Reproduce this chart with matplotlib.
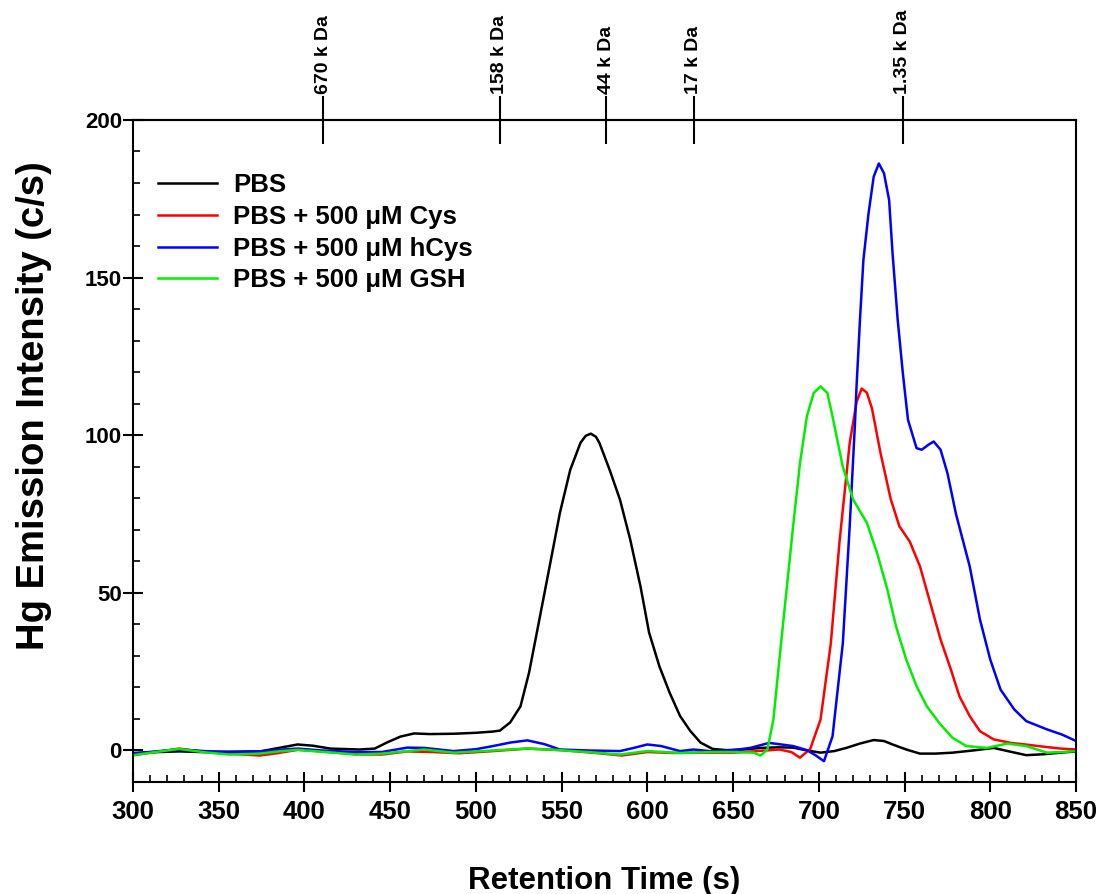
import matplotlib
matplotlib.use("Agg")
import matplotlib.pyplot as plt
from matplotlib.ticker import MultipleLocator

plt.rcParams['font.family'] = ['Liberation Sans', 'DejaVu Sans']
plt.rcParams['font.weight'] = 'bold'

# ➤ retention time (s) / Hg intensity (c/s)
pbs_x = [300, 315, 327, 340, 356, 374, 385, 396, 405, 415, 432, 441, 448, 456, 464, 473,
         487, 500, 510, 514, 520, 526, 531, 537, 543, 549, 555, 561, 564, 567, 570, 572,
         578, 584, 590, 596, 601, 607, 613, 619, 625, 631, 638, 646, 656, 666, 676, 685,
         693, 701, 709, 716, 724, 732, 738, 743, 751, 759, 768, 778, 790, 802, 811, 821,
         831, 841, 850]
pbs_y = [-0.8, -0.5, -0.3, -0.5, -0.4, -0.3, 0.8, 1.9, 1.5, 0.6, 0.3, 0.6, 2.5, 4.4, 5.4, 5.2,
         5.3, 5.6, 6.0, 6.3, 8.9, 14, 24.7, 41.5, 58.4, 75.4, 89, 97.6, 99.8, 100.5, 99.5, 97.6,
         89, 79.6, 66.9, 52, 37.4, 26.7, 18.3, 11, 6.2, 2.5, 0.5, 0.1, 0.3, 0.8, 1.0, 0.9,
         0, -0.7, -0.2, 0.8, 2.2, 3.3, 3.0, 1.9, 0.3, -1, -1.0, -0.7, 0, 0.8, -0.3, -1.5,
         -1.2, -0.7, -0.3]

cys_x = [300, 313, 327, 342, 356, 374, 385, 396, 410, 430, 445, 460, 475, 490, 510, 530,
         550, 570, 585, 600, 615, 632, 650, 664, 677, 684, 689, 695, 701, 707, 712, 718,
         722, 725, 728, 731, 736, 742, 747, 753, 759, 765, 771, 777, 782, 788, 794, 802,
         812, 822, 831, 841, 850]
cys_y = [-1.5, -0.5, 0.6, -0.5, -1.0, -1.6, -0.8, 0.2, -0.3, -1.2, -1.3, -0.3, -0.5, -0.9, -0.2, 0.6,
         0.1, -0.8, -1.6, -0.5, -0.8, -0.7, -0.7, -0.2, 0.3, -0.5, -2.3, 0.5, 9.8, 34, 65.8, 97.5,
         110.5, 114.8, 113.5, 108.5, 94.3, 79.6, 71.1, 66.3, 58.4, 46.8, 35.2, 25.7, 17.2, 10.9, 6.1, 3.5,
         2.4, 1.8, 1.2, 0.6, 0.3]

hcys_x = [300, 313, 327, 342, 356, 374, 385, 396, 410, 430, 445, 460, 470, 487, 500, 510,
          520, 530, 540, 549, 565, 584, 592, 600, 608, 619, 627, 638, 650, 660, 671, 685,
          693, 698, 703, 708, 714, 718, 721, 722, 724, 726, 729, 732, 735, 738, 741, 743,
          746, 749, 752, 757, 760, 764, 767, 771, 775, 780, 788, 794, 800, 806, 814, 821,
          833, 842, 850]
hcys_y = [-1.0, -0.3, 0.3, -0.2, -0.5, -0.3, 0.2, 0.6, 0.0, -0.5, -0.5, 0.9, 0.8, -0.2, 0.4, 1.4,
          2.5, 3.2, 2.0, 0.3, 0.0, -0.2, 0.8, 1.9, 1.4, -0.2, 0.3, -0.3, 0.1, 0.8, 2.4, 1.4,
          0.1, -1.5, -3.4, 4.5, 34, 71.1, 102.8, 115.5, 136.6, 155.6, 170.4, 182, 186.2, 183.1, 174.6, 157.7,
          136.6, 119.7, 104.9, 95.9, 95.4, 97, 98, 95.4, 88, 75, 58.4, 41.5, 28.8, 19.3, 13, 9.3,
          6.7, 5, 3]

gsh_x = [300, 313, 327, 342, 356, 374, 385, 396, 410, 430, 445, 460, 470, 487, 500, 510,
         530, 549, 565, 584, 600, 619, 638, 650, 662, 666, 670, 673.5, 677, 681, 685, 689,
         693, 697, 701, 705, 708, 714, 720, 728, 734, 740, 745, 751, 757, 763, 771, 778,
         786, 798, 810, 821, 833, 842, 850]
gsh_y = [-1.5, -0.5, 0.5, -0.6, -1.3, -1.0, -0.3, 0.2, -0.4, -1.3, -1.0, -0.2, 0.3, -0.7, -0.3, 0.0,
         0.6, 0.1, -0.5, -1.3, -0.2, -0.8, -0.5, -0.5, -0.7, -1.6, 0.3, 9.8, 28.8, 50, 71.1, 91.1,
         105.9, 113.4, 115.5, 113.4, 105.9, 90, 79.6, 72.2, 62.6, 51, 39.4, 28.8, 20.4, 14, 8.2, 4,
         1.4, 0.8, 2.2, 1.4, -0.7, -0.5, -0.2]

series_labels = ["PBS", "PBS + 500 \u03bcM Cys", "PBS + 500 \u03bcM hCys", "PBS + 500 \u03bcM GSH"]
series_colors = ["black", "red", "blue", "#00ee00"]

# ➤ markers for the standards (top axis)
std_pos = [411, 514, 576, 627, 749]
std_labels = ["670 k Da", "158 k Da", "44 k Da", "17 k Da", "1.35 k Da"]

fig = plt.figure(figsize=(11.01, 8.94), dpi=100)
ax = fig.add_axes([0.1208, 0.1253, 0.8565, 0.7405])

for xs, ys, lab, col in zip([pbs_x, cys_x, hcys_x, gsh_x], [pbs_y, cys_y, hcys_y, gsh_y],
                            series_labels, series_colors):
    ax.plot(xs, ys, color=col, lw=1.8, label=lab, solid_joinstyle='round')

ax.set_xlim(300, 850)
ax.set_ylim(-10, 200)
ax.xaxis.set_major_locator(MultipleLocator(50))
ax.xaxis.set_minor_locator(MultipleLocator(10))
ax.yaxis.set_major_locator(MultipleLocator(50))
ax.yaxis.set_minor_locator(MultipleLocator(10))
ax.tick_params(which='major', direction='inout', length=14, width=1.5)
ax.tick_params(which='minor', direction='in', length=5, width=1.2)
ax.tick_params(axis='x', which='major', labelsize=18.5, pad=6)
ax.tick_params(axis='y', which='major', labelsize=16, pad=1)
for sp in ax.spines.values():
    sp.set_linewidth(1.5)

ax.set_xlabel("Retention Time (s)", fontsize=22.5, fontweight='bold', labelpad=30)
ax.set_ylabel("Hg Emission Intensity (c/s)", fontsize=27.5, fontweight='bold')
ax.yaxis.set_label_coords(-0.086, 0.568)

top = ax.secondary_xaxis('top')
top.set_xticks(std_pos, std_labels)
top.tick_params(direction='inout', length=34, width=1.5, labelsize=14, labelrotation=90, pad=2)
top.spines['top'].set_linewidth(1.5)

leg = ax.legend(loc='upper left', bbox_to_anchor=(0.016, 0.935), frameon=False,
                fontsize=18.5, handlelength=2.3, handletextpad=0.6, labelspacing=0.3,
                borderaxespad=0.0)
for t in leg.get_texts():
    t.set_fontweight('bold')

fig.savefig("out.png", dpi=100)
